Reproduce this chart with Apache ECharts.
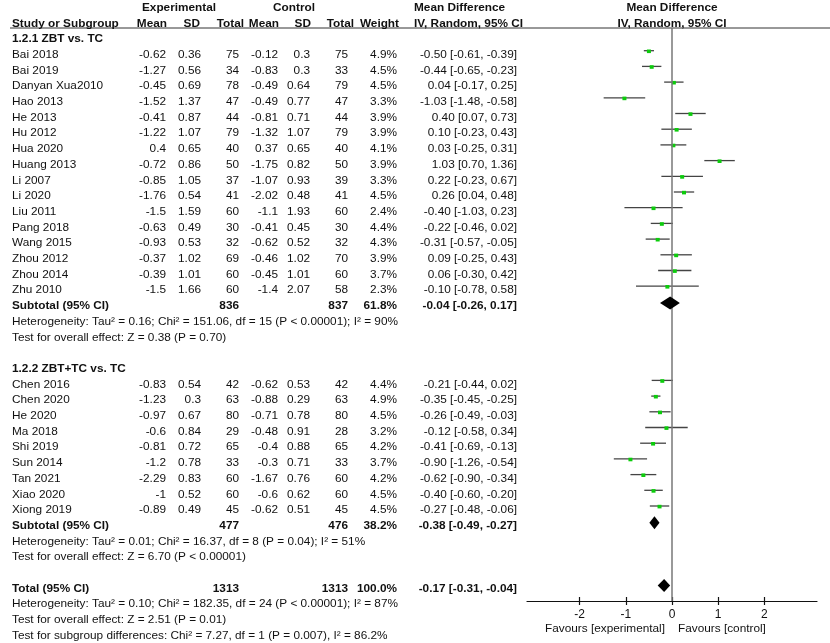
<!DOCTYPE html>
<html>
<head>
<meta charset="utf-8">
<script src="https://cdn.jsdelivr.net/npm/echarts@6/dist/echarts.min.js"></script>
<style>
  html, body { margin: 0; padding: 0; background: #fff; }
  #chart { width: 830px; height: 643px; }
</style>
</head>
<body>
<div id="chart"></div>
<script>
// study data, subgroup 1.2.1 ZBT vs. TC
var studies1 = ['Bai 2018', 'Bai 2019', 'Danyan Xua2010', 'Hao 2013', 'He 2013', 'Hu 2012', 'Hua 2020', 'Huang 2013',
  'Li 2007', 'Li 2020', 'Liu 2011', 'Pang 2018', 'Wang 2015', 'Zhou 2012', 'Zhou 2014', 'Zhu 2010'];
var expMean1 = [-0.62, -1.27, -0.45, -1.52, -0.41, -1.22, 0.4, -0.72, -0.85, -1.76, -1.5, -0.63, -0.93, -0.37, -0.39, -1.5];
var expSD1 = [0.36, 0.56, 0.69, 1.37, 0.87, 1.07, 0.65, 0.86, 1.05, 0.54, 1.59, 0.49, 0.53, 1.02, 1.01, 1.66];
var expN1 = [75, 34, 78, 47, 44, 79, 40, 50, 37, 41, 60, 30, 32, 69, 60, 60];
var ctlMean1 = [-0.12, -0.83, -0.49, -0.49, -0.81, -1.32, 0.37, -1.75, -1.07, -2.02, -1.1, -0.41, -0.62, -0.46, -0.45, -1.4];
var ctlSD1 = [0.3, 0.3, 0.64, 0.77, 0.71, 1.07, 0.65, 0.82, 0.93, 0.48, 1.93, 0.45, 0.52, 1.02, 1.01, 2.07];
var ctlN1 = [75, 33, 79, 47, 44, 79, 40, 50, 39, 41, 60, 30, 32, 70, 60, 58];
var weight1 = [4.9, 4.5, 4.5, 3.3, 3.9, 3.9, 4.1, 3.9, 3.3, 4.5, 2.4, 4.4, 4.3, 3.9, 3.7, 2.3];
var md1 = [-0.50, -0.44, 0.04, -1.03, 0.40, 0.10, 0.03, 1.03, 0.22, 0.26, -0.40, -0.22, -0.31, 0.09, 0.06, -0.10];
var lo1 = [-0.61, -0.65, -0.17, -1.48, 0.07, -0.23, -0.25, 0.70, -0.23, 0.04, -1.03, -0.46, -0.57, -0.25, -0.30, -0.78];
var hi1 = [-0.39, -0.23, 0.25, -0.58, 0.73, 0.43, 0.31, 1.36, 0.67, 0.48, 0.23, 0.02, -0.05, 0.43, 0.42, 0.58];

// subgroup 1.2.2 ZBT+TC vs. TC
var studies2 = ['Chen 2016', 'Chen 2020', 'He 2020', 'Ma 2018', 'Shi 2019', 'Sun 2014', 'Tan 2021', 'Xiao 2020', 'Xiong 2019'];
var expMean2 = [-0.83, -1.23, -0.97, -0.6, -0.81, -1.2, -2.29, -1, -0.89];
var expSD2 = [0.54, 0.3, 0.67, 0.84, 0.72, 0.78, 0.83, 0.52, 0.49];
var expN2 = [42, 63, 80, 29, 65, 33, 60, 60, 45];
var ctlMean2 = [-0.62, -0.88, -0.71, -0.48, -0.4, -0.3, -1.67, -0.6, -0.62];
var ctlSD2 = [0.53, 0.29, 0.78, 0.91, 0.88, 0.71, 0.76, 0.62, 0.51];
var ctlN2 = [42, 63, 80, 28, 65, 33, 60, 60, 45];
var weight2 = [4.4, 4.9, 4.5, 3.2, 4.2, 3.7, 4.2, 4.5, 4.5];
var md2 = [-0.21, -0.35, -0.26, -0.12, -0.41, -0.90, -0.62, -0.40, -0.27];
var lo2 = [-0.44, -0.45, -0.49, -0.58, -0.69, -1.26, -0.90, -0.60, -0.48];
var hi2 = [0.02, -0.25, -0.03, 0.34, -0.13, -0.54, -0.34, -0.20, -0.06];

// pooled estimates: [md, lo, hi, expTotal, ctlTotal, weight]
var subtotal1 = [-0.04, -0.26, 0.17, 836, 837, 61.8];
var subtotal2 = [-0.38, -0.49, -0.27, 477, 476, 38.2];
var total = [-0.17, -0.31, -0.04, 1313, 1313, 100.0];

var stats1 = ['Heterogeneity: Tau² = 0.16; Chi² = 151.06, df = 15 (P < 0.00001); I² = 90%', 'Test for overall effect: Z = 0.38 (P = 0.70)'];
var stats2 = ['Heterogeneity: Tau² = 0.01; Chi² = 16.37, df = 8 (P = 0.04); I² = 51%', 'Test for overall effect: Z = 6.70 (P < 0.00001)'];
var statsTotal = ['Heterogeneity: Tau² = 0.10; Chi² = 182.35, df = 24 (P < 0.00001); I² = 87%', 'Test for overall effect: Z = 2.51 (P = 0.01)',
  'Test for subgroup differences: Chi² = 7.27, df = 1 (P = 0.007), I² = 86.2%'];

var xTicks = [-2, -1, 0, 1, 2];

// layout
var W = 830, H = 643;
var ROW0 = 39, ROWH = 15.7;          // pixel y of row 0 and row pitch
var PLOT_L = 527, PLOT_W = 290, PLOT_T = 28, PLOT_B = 601;
var FONT = '"Liberation Sans", Arial, sans-serif';
var FSIZE = '11.8px ';
var INK = '#111';

// column anchors (x px)
var COL = { name: 12, em: 166, es: 201, en: 239, cm: 278, cs: 310, cn: 348, w: 397, ci: 517 };

function ci(m, l, h) {
  return m.toFixed(2) + ' [' + l.toFixed(2) + ', ' + h.toFixed(2) + ']';
}
function cell(t, x, a, bold) { return { t: String(t), x: x, a: a, b: !!bold }; }

var tableRows = [];   // {k, cells}
var studyMarks = [];  // [md, lo, hi, k]
var diamonds = [];    // [md, lo, hi, k]

tableRows.push({ k: -2, cells: [
  cell('Experimental', 179, 'center', true), cell('Control', 294, 'center', true),
  cell('Mean Difference', 414, 'left', true), cell('Mean Difference', 672, 'center', true)] });
tableRows.push({ k: -1, cells: [
  cell('Study or Subgroup', 12, 'left', true), cell('Mean', 167, 'right', true), cell('SD', 200, 'right', true),
  cell('Total', 244, 'right', true), cell('Mean', 279, 'right', true), cell('SD', 311, 'right', true),
  cell('Total', 354, 'right', true), cell('Weight', 399, 'right', true),
  cell('IV, Random, 95% CI', 414, 'left', true), cell('IV, Random, 95% CI', 672, 'center', true)] });

function addGroup(k, title, names, em, es, en, cm, cs, cn, w, md, lo, hi, sub, stats) {
  tableRows.push({ k: k, cells: [cell(title, COL.name, 'left', true)] });
  k++;
  for (var i = 0; i < names.length; i++) {
    tableRows.push({ k: k, cells: [
      cell(names[i], COL.name, 'left'), cell(em[i], COL.em, 'right'), cell(es[i], COL.es, 'right'),
      cell(en[i], COL.en, 'right'), cell(cm[i], COL.cm, 'right'), cell(cs[i], COL.cs, 'right'),
      cell(cn[i], COL.cn, 'right'), cell(w[i].toFixed(1) + '%', COL.w, 'right'),
      cell(ci(md[i], lo[i], hi[i]), COL.ci, 'right')] });
    studyMarks.push([md[i], lo[i], hi[i], k]);
    k++;
  }
  tableRows.push({ k: k, cells: [
    cell('Subtotal (95% CI)', COL.name, 'left', true), cell(sub[3], COL.en, 'right', true),
    cell(sub[4], COL.cn, 'right', true), cell(sub[5].toFixed(1) + '%', COL.w, 'right', true),
    cell(ci(sub[0], sub[1], sub[2]), COL.ci, 'right', true)] });
  diamonds.push([sub[0], sub[1], sub[2], k]);
  k++;
  stats.forEach(function (s) { tableRows.push({ k: k, cells: [cell(s, COL.name, 'left')] }); k++; });
  return k;
}

var k = addGroup(0, '1.2.1 ZBT vs. TC', studies1, expMean1, expSD1, expN1, ctlMean1, ctlSD1, ctlN1, weight1, md1, lo1, hi1, subtotal1, stats1);
k = addGroup(k + 1, '1.2.2 ZBT+TC vs. TC', studies2, expMean2, expSD2, expN2, ctlMean2, ctlSD2, ctlN2, weight2, md2, lo2, hi2, subtotal2, stats2);
k++;
tableRows.push({ k: k, cells: [
  cell('Total (95% CI)', COL.name, 'left', true), cell(total[3], COL.en, 'right', true),
  cell(total[4], COL.cn, 'right', true), cell(total[5].toFixed(1) + '%', COL.w, 'right', true),
  cell(ci(total[0], total[1], total[2]), COL.ci, 'right', true)] });
diamonds.push([total[0], total[1], total[2], k]);
k++;
statsTotal.forEach(function (s) { tableRows.push({ k: k, cells: [cell(s, COL.name, 'left')] }); k++; });
tableRows.push({ k: 37.55, cells: [
  cell('Favours [experimental]', 665, 'right'), cell('Favours [control]', 678, 'left')] });

function rowOf(py) { return (py - ROW0) / ROWH; }

var chart = echarts.init(document.getElementById('chart'), null, { renderer: 'canvas' });

chart.setOption({
  animation: false,
  backgroundColor: '#fff',
  grid: [
    { left: PLOT_L, width: PLOT_W, top: PLOT_T, height: PLOT_B - PLOT_T },
    { left: 0, width: W, top: 0, height: H }
  ],
  xAxis: [
    {
      gridIndex: 0, type: 'value', position: 'bottom', min: -3.14, max: 3.14, splitLine: { show: false },
      axisLine: { onZero: false, lineStyle: { color: '#111', width: 1.2 } },
      axisTick: { length: 4, customValues: xTicks, lineStyle: { color: '#111', width: 1.2 } },
      axisLabel: { customValues: xTicks, margin: 8, fontFamily: FONT, fontSize: 12, color: INK }
    },
    {
      gridIndex: 0, type: 'value', position: 'bottom', min: -3.14, max: 3.14, splitLine: { show: false },
      axisLine: { show: false, onZero: false }, axisLabel: { show: false },
      axisTick: { inside: true, length: 4, customValues: xTicks, lineStyle: { color: '#111', width: 1.2 } }
    },
    { gridIndex: 1, type: 'value', min: 0, max: W, show: false }
  ],
  yAxis: [
    { gridIndex: 0, type: 'value', inverse: true, min: rowOf(PLOT_T), max: rowOf(PLOT_B), show: false },
    { gridIndex: 1, type: 'value', inverse: true, min: rowOf(0), max: rowOf(H), show: false }
  ],
  graphic: [
    { type: 'line', shape: { x1: 10, y1: 28, x2: W, y2: 28 }, style: { stroke: '#333', lineWidth: 1 }, z: 1 }
  ],
  series: [
    {
      type: 'custom', xAxisIndex: 2, yAxisIndex: 1, silent: true,
      data: tableRows.map(function (r) { return [0, r.k]; }),
      renderItem: function (params, api) {
        var r = tableRows[params.dataIndex];
        var y = api.coord([0, r.k])[1];
        return {
          type: 'group',
          children: r.cells.map(function (c) {
            return {
              type: 'text',
              style: {
                text: c.t, x: api.coord([c.x, r.k])[0], y: y, align: c.a, verticalAlign: 'middle',
                font: (c.b ? 'bold ' : '') + FSIZE + FONT, fill: INK
              }
            };
          })
        };
      }
    },
    {
      type: 'custom', xAxisIndex: 0, yAxisIndex: 0, silent: true, clip: false, z: 2,
      data: studyMarks,
      renderItem: function (params, api) {
        var p = api.coord([api.value(0), api.value(3)]);
        var a = api.coord([api.value(1), api.value(3)]);
        var b = api.coord([api.value(2), api.value(3)]);
        var y = p[1] - 4;
        return {
          type: 'group',
          children: [
            { type: 'line', shape: { x1: a[0], y1: y, x2: b[0], y2: y }, style: { stroke: '#444', lineWidth: 1.3 } },
            { type: 'rect', shape: { x: p[0] - 2, y: y - 1.2, width: 4, height: 3.6 }, style: { fill: '#0ccc0c' } }
          ]
        };
      },
      markLine: {
        silent: true, symbol: 'none', label: { show: false },
        lineStyle: { color: '#777', width: 1.5, type: 'solid' },
        data: [{ xAxis: 0 }]
      }
    },
    {
      type: 'custom', xAxisIndex: 0, yAxisIndex: 0, silent: true, clip: false, z: 5,
      data: diamonds,
      renderItem: function (params, api) {
        var p = api.coord([api.value(0), api.value(3)]);
        var a = api.coord([api.value(1), api.value(3)]);
        var b = api.coord([api.value(2), api.value(3)]);
        var y = p[1] - 3;
        return {
          type: 'polygon',
          shape: { points: [[a[0], y], [p[0], y - 6.5], [b[0], y], [p[0], y + 6.5]] },
          style: { fill: '#000' }
        };
      }
    }
  ]
});

window.addEventListener('resize', chart.resize);
</script>
</body>
</html>
